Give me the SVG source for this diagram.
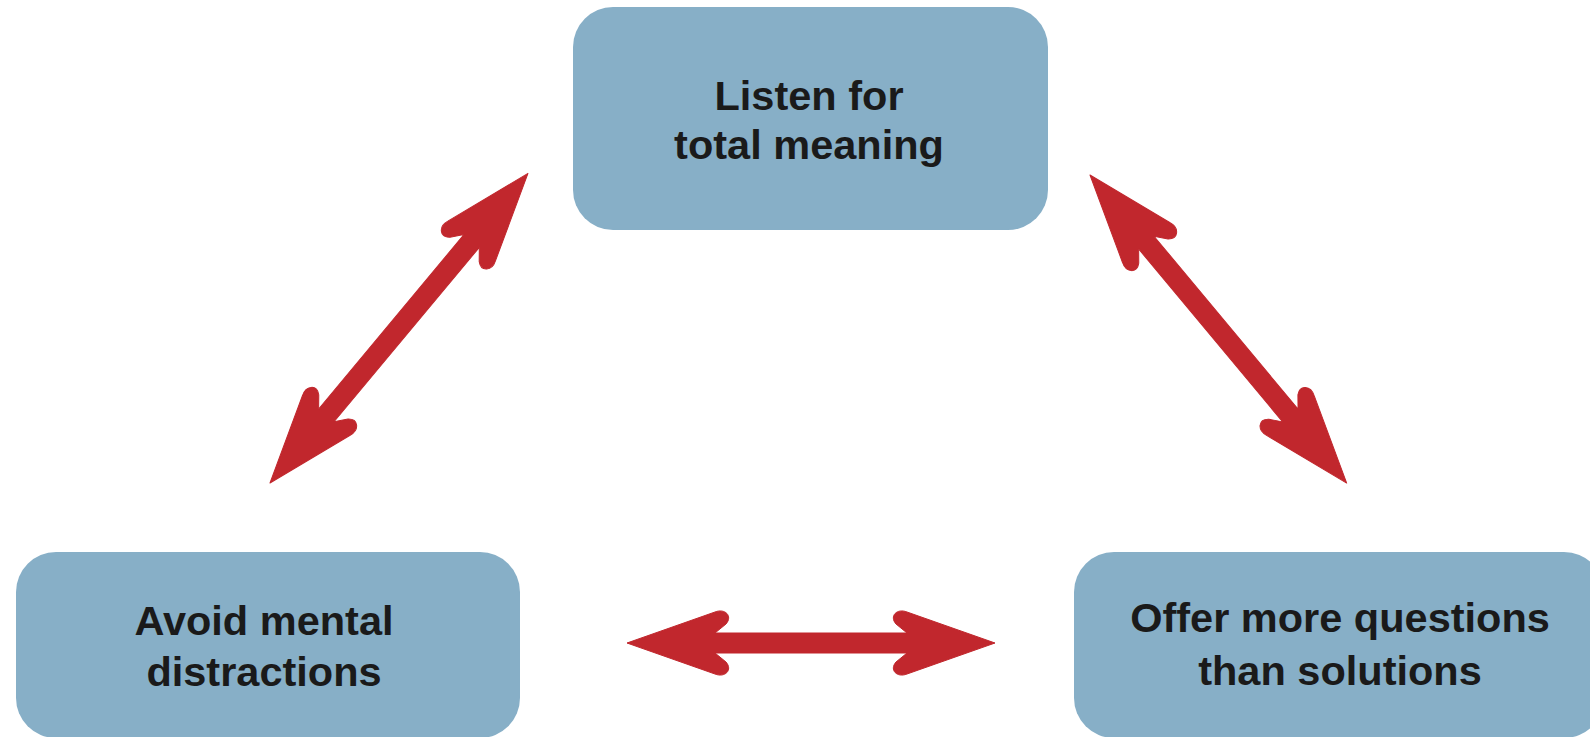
<svg xmlns="http://www.w3.org/2000/svg" width="1590" height="737" viewBox="0 0 1590 737">
<style>
.box{fill:#87AFC7;}
.lbl{font-family:"Liberation Sans",Arial,sans-serif;font-weight:bold;font-size:41.5px;fill:#1a1a1a;text-anchor:middle;}
.arr{fill:#C1272D;stroke:#C1272D;stroke-width:1;stroke-linejoin:round;}
</style>
<rect width="1590" height="737" fill="#ffffff"/>
<g id="node-listen">
<rect class="box" x="573" y="7" width="475" height="223" rx="40" ry="40"/>
<text class="lbl" x="809" y="110">Listen for</text>
<text class="lbl" x="809" y="159">total meaning</text>
</g>
<g id="node-avoid">
<rect class="box" x="16" y="552" width="504" height="186" rx="40" ry="40"/>
<text class="lbl" x="264" y="635">Avoid mental</text>
<text class="lbl" x="264" y="686">distractions</text>
</g>
<g id="node-offer">
<rect class="box" x="1074" y="552" width="530" height="186" rx="40" ry="40"/>
<text class="lbl" x="1340" y="632">Offer more questions</text>
<text class="lbl" x="1340" y="685">than solutions</text>
</g>
<g id="connectors">
<path class="arr" transform="translate(627,643)" d="M0,0 L88,-31 C98,-35 106,-27 99,-19 L88,-10 L280,-10 L269,-19 C262,-27 270,-35 280,-31 L368,0 L280,31 C270,35 262,27 269,19 L280,10 L88,10 L99,19 C106,27 98,35 88,31 Z"/>
<path class="arr" transform="translate(270,483) rotate(-50.2)" d="M0,0 L88,-31 C98,-35 106,-27 99,-19 L88,-10 L315,-10 L304,-19 C297,-27 305,-35 315,-31 L403,0 L315,31 C305,35 297,27 304,19 L315,10 L88,10 L99,19 C106,27 98,35 88,31 Z"/>
<path class="arr" transform="translate(1090,175) rotate(50.2)" d="M0,0 L88,-31 C98,-35 106,-27 99,-19 L88,-10 L313,-10 L302,-19 C295,-27 303,-35 313,-31 L401,0 L313,31 C303,35 295,27 302,19 L313,10 L88,10 L99,19 C106,27 98,35 88,31 Z"/>
</g>
</svg>
